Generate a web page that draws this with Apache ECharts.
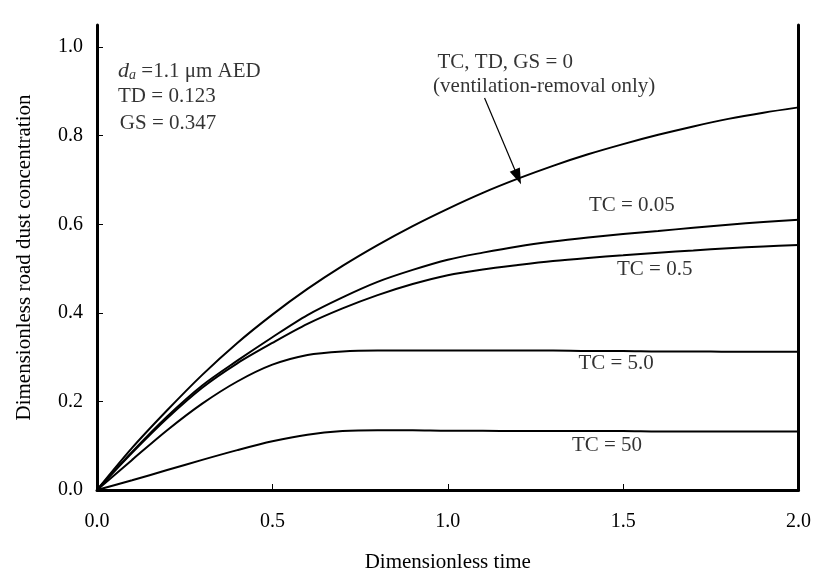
<!DOCTYPE html>
<html>
<head>
<meta charset="utf-8">
<title>Dimensionless road dust concentration</title>
<script src="https://cdn.jsdelivr.net/npm/echarts@6/dist/echarts.min.js"></script>
<style>
html, body { margin: 0; padding: 0; background: #fff; }
#main { width: 814px; height: 578px; }
</style>
</head>
<body>
<div id="main"></div>
<script>
// time values (dimensionless), step 0.1
var times = [0, 0.1, 0.2, 0.3, 0.4, 0.5, 0.6, 0.7, 0.8, 0.9, 1.0,
             1.1, 1.2, 1.3, 1.4, 1.5, 1.6, 1.7, 1.8, 1.9, 2.0];

// concentration
var ventOnly = [0, 0.095, 0.18, 0.26, 0.332, 0.396, 0.454, 0.506, 0.553, 0.596, 0.635,
                0.671, 0.703, 0.732, 0.758, 0.781, 0.802, 0.821, 0.838, 0.852, 0.864];
var tc005    = [0, 0.086, 0.166, 0.236, 0.292, 0.345, 0.395, 0.435, 0.47, 0.497, 0.52,
                0.536, 0.55, 0.561, 0.57, 0.578, 0.585, 0.592, 0.599, 0.605, 0.61];
var tc05     = [0, 0.084, 0.162, 0.231, 0.286, 0.332, 0.375, 0.41, 0.44, 0.465, 0.485,
                0.498, 0.508, 0.517, 0.524, 0.53, 0.536, 0.541, 0.546, 0.55, 0.553];
var tc5      = [0, 0.068, 0.135, 0.195, 0.245, 0.283, 0.305, 0.313, 0.315, 0.315, 0.315,
                0.315, 0.315, 0.315, 0.314, 0.314, 0.313, 0.313, 0.312, 0.312, 0.312];
var tc50     = [0, 0.022, 0.045, 0.068, 0.09, 0.11, 0.125, 0.133, 0.135, 0.135, 0.134,
                0.134, 0.133, 0.133, 0.133, 0.133, 0.132, 0.132, 0.132, 0.132, 0.132];

// curve labels: text, x, y (data units)
var curveLabels = [
    ['TC, TD, GS = 0', 1.164, 0.966],
    ['(ventilation-removal only)', 1.275, 0.912],
    ['TC = 0.05', 1.525, 0.642],
    ['TC = 0.5', 1.59, 0.498],
    ['TC = 5.0', 1.48, 0.285],
    ['TC = 50', 1.454, 0.1]
];
// parameter box (left aligned)
var paramLabels = [
    ['{i|d}{s|a} =1.1 \u03bcm AED', 0.06, 0.946],
    ['TD = 0.123', 0.06, 0.888],
    ['GS = 0.347', 0.065, 0.827]
];
var arrowFrom = [1.105, 0.885];
var arrowTo = [1.2, 0.707];

var yTicks = [0, 0.2, 0.4, 0.6, 0.8, 1.0];

function pairs(ys) {
    return times.map(function (t, i) { return [t, ys[i]]; });
}

var serif = 'Liberation Serif';
var myChart = echarts.init(document.getElementById('main'));

function curve(name, ys) {
    return {
        name: name,
        type: 'line',
        smooth: 0.3,
        symbol: 'none',
        lineStyle: { color: '#000', width: 2 },
        data: pairs(ys)
    };
}

var textPoints = curveLabels.map(function (l) {
    return { value: [l[1], l[2]], label: { formatter: l[0], align: 'center' } };
}).concat(paramLabels.map(function (l) {
    return { value: [l[1], l[2]], label: { formatter: l[0], align: 'left' } };
}));

option = {
    animation: false,
    backgroundColor: '#fff',
    grid: { left: 97, right: 13, top: 25, bottom: 86 },
    xAxis: {
        type: 'value',
        min: 0, max: 2.0, interval: 0.5,
        name: 'Dimensionless time',
        nameLocation: 'middle',
        nameGap: 62,
        nameTextStyle: { fontFamily: serif, fontSize: 21, color: '#000' },
        axisLine: { lineStyle: { color: '#000', width: 3 } },
        axisTick: { inside: true, length: 6, lineStyle: { color: '#000', width: 1 } },
        axisLabel: {
            fontFamily: serif, fontSize: 20, color: '#000', margin: 22,
            formatter: function (v) { return v.toFixed(1); }
        },
        splitLine: { show: false }
    },
    yAxis: [{
        type: 'value',
        min: 0, max: 1.05, interval: 0.2,
        name: 'Dimensionless road dust concentration',
        nameLocation: 'middle',
        nameRotate: 90,
        nameGap: 62,
        nameTextStyle: { fontFamily: serif, fontSize: 21, color: '#000' },
        axisLine: { lineStyle: { color: '#000', width: 3 } },
        axisTick: { inside: true, length: 6, lineStyle: { color: '#000', width: 1 } },
        axisLabel: {
            fontFamily: serif, fontSize: 20, color: '#000', margin: 14,
            showMaxLabel: false,
            formatter: function (v) { return yTicks.indexOf(+v.toFixed(1)) >= 0 ? v.toFixed(1) : ''; }
        },
        splitLine: { show: false }
    }, {
        type: 'value',
        position: 'right',
        min: 0, max: 1.05,
        axisLine: { show: true, lineStyle: { color: '#000', width: 3 } },
        axisTick: { show: false },
        axisLabel: { show: false },
        splitLine: { show: false }
    }],
    series: [
        curve('TC, TD, GS = 0', ventOnly),
        curve('TC = 0.05', tc005),
        curve('TC = 0.5', tc05),
        curve('TC = 5.0', tc5),
        curve('TC = 50', tc50),
        {
            name: 'labels',
            type: 'scatter',
            symbolSize: 0,
            silent: true,
            label: {
                show: true,
                position: 'inside',
                color: '#000',
                fontFamily: serif,
                fontSize: 21,
                rich: {
                    i: { fontFamily: serif, fontStyle: 'italic', fontSize: 22, color: '#000' },
                    s: { fontFamily: serif, fontStyle: 'italic', fontSize: 14, color: '#000', verticalAlign: 'bottom', padding: [9, 0, 0, 0] }
                }
            },
            data: textPoints,
            markLine: {
                silent: true,
                symbol: ['none', 'triangle'],
                symbolSize: [11, 16],
                label: { show: false },
                lineStyle: { color: '#000', width: 1.2, type: 'solid' },
                data: [[{ coord: arrowFrom }, { coord: arrowTo }]]
            }
        }
    ]
};

myChart.setOption(option);
</script>
</body>
</html>
